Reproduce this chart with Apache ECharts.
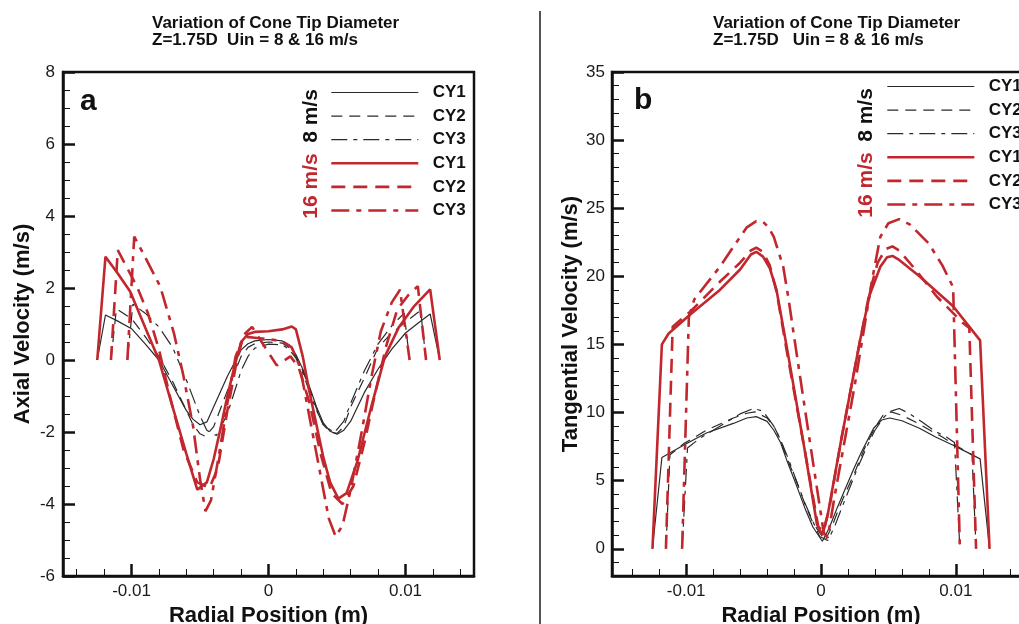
<!DOCTYPE html>
<html><head><meta charset="utf-8">
<script src="https://cdn.jsdelivr.net/npm/echarts@6/dist/echarts.min.js"></script>
<style>html,body{margin:0;padding:0;background:#fff}#c{width:1019px;height:624px}</style>
</head><body><div id="c"></div>
<script>
// ---------- tick values ----------
const xTickMajor = [-0.01, 0, 0.01];
const xTickMinor = [-0.014,-0.012,-0.008,-0.006,-0.004,-0.002,0.002,0.004,0.006,0.008,0.012,0.014];
const yTickMajorB = [0,5,10,15,20,25,30,35];
const yTickMinorB = [-1,1,2,3,4,6,7,8,9,11,12,13,14,16,17,18,19,21,22,23,24,26,27,28,29,31,32,33,34];

// ---------- panel a : axial velocity [radial position (m), velocity (m/s)] ----------
const a8_CY1 = [[-0.0125,0],[-0.0119,1.25],[-0.011,1.08],[-0.010,0.87],[-0.009,0.45],[-0.008,0],[-0.007,-0.7],[-0.006,-1.4],[-0.0055,-1.65],[-0.005,-1.8],[-0.0045,-1.72],[-0.004,-1.3],[-0.003,-0.45],[-0.002,0.28],[-0.0015,0.45],[-0.001,0.53],[0,0.57],[0.001,0.53],[0.0015,0.42],[0.002,0.15],[0.0025,-0.25],[0.003,-0.75],[0.0035,-1.3],[0.004,-1.75],[0.0045,-1.98],[0.005,-2.06],[0.0055,-1.95],[0.006,-1.7],[0.007,-0.9],[0.008,-0.25],[0.009,0.3],[0.010,0.75],[0.011,1.05],[0.0118,1.28],[0.0125,0]];
const a8_CY2 = [[-0.0115,0],[-0.0111,1.42],[-0.010,1.15],[-0.009,0.65],[-0.008,0.1],[-0.007,-0.6],[-0.006,-1.4],[-0.0055,-1.8],[-0.005,-2.05],[-0.0046,-2.12],[-0.004,-1.85],[-0.003,-0.85],[-0.002,0.1],[-0.0015,0.35],[-0.001,0.45],[0,0.5],[0.001,0.47],[0.0015,0.35],[0.002,0.1],[0.0025,-0.3],[0.003,-0.8],[0.0035,-1.35],[0.004,-1.8],[0.0045,-2.0],[0.005,-2.04],[0.0055,-1.85],[0.006,-1.3],[0.007,-0.5],[0.008,0.35],[0.009,0.75],[0.010,1.05],[0.0111,1.38],[0.0115,0]];
const a8_CY3 = [[-0.0103,0],[-0.0099,1.55],[-0.009,1.3],[-0.008,0.92],[-0.007,0.35],[-0.006,-0.55],[-0.005,-1.55],[-0.0045,-1.95],[-0.0038,-2.1],[-0.003,-1.5],[-0.002,-0.3],[-0.0015,0.1],[-0.001,0.33],[0,0.44],[0.001,0.42],[0.0015,0.3],[0.002,0.05],[0.0025,-0.35],[0.003,-0.9],[0.0035,-1.4],[0.004,-1.8],[0.0048,-2.02],[0.0055,-1.7],[0.006,-1.2],[0.007,-0.3],[0.008,0.45],[0.009,0.95],[0.0099,1.3],[0.0103,0]];
const a16_CY1 = [[-0.0125,0],[-0.0119,2.87],[-0.011,2.4],[-0.0101,1.9],[-0.009,0.9],[-0.008,0],[-0.007,-1.3],[-0.006,-2.6],[-0.0052,-3.6],[-0.0045,-3.4],[-0.004,-2.75],[-0.0035,-1.9],[-0.003,-1.0],[-0.0025,-0.2],[-0.002,0.5],[-0.0015,0.72],[-0.001,0.78],[0,0.8],[0.001,0.85],[0.0017,0.93],[0.002,0.85],[0.0025,0.1],[0.003,-0.9],[0.0035,-1.8],[0.004,-2.7],[0.0045,-3.4],[0.0051,-3.85],[0.0057,-3.7],[0.0065,-2.8],[0.0075,-1.3],[0.0085,0.1],[0.0095,0.9],[0.0106,1.48],[0.0118,1.96],[0.0125,0]];
const a16_CY2 = [[-0.0115,0],[-0.011,3.05],[-0.0096,2.04],[-0.0088,1.3],[-0.008,0.3],[-0.0072,-1.0],[-0.0062,-2.5],[-0.0052,-3.4],[-0.0043,-3.55],[-0.0037,-3.0],[-0.003,-1.4],[-0.0023,0],[-0.0018,0.7],[-0.0012,0.92],[-0.0005,0.5],[0.0006,-0.15],[0.0016,0.1],[0.0022,-0.2],[0.003,-1.2],[0.0038,-2.6],[0.0046,-3.7],[0.0054,-4.0],[0.0062,-3.5],[0.007,-2.3],[0.0078,-0.9],[0.0086,0.4],[0.0094,1.4],[0.0102,1.8],[0.0109,2.05],[0.0115,0]];
const a16_CY3 = [[-0.0103,0],[-0.0098,3.43],[-0.0089,2.78],[-0.0079,2.04],[-0.0069,0.74],[-0.0062,-0.46],[-0.0055,-1.85],[-0.005,-3.3],[-0.0046,-4.2],[-0.0042,-3.9],[-0.0036,-2.6],[-0.003,-1.2],[-0.0024,0.1],[-0.0018,0.65],[-0.001,0.62],[0,0.58],[0.001,0.52],[0.0017,0.35],[0.0023,-0.2],[0.003,-1.6],[0.0038,-3.2],[0.0044,-4.4],[0.0049,-4.9],[0.0054,-4.6],[0.006,-3.6],[0.0068,-2.0],[0.0075,-0.5],[0.0082,0.8],[0.009,1.6],[0.0096,1.95],[0.0103,0]];

// ---------- panel b : tangential velocity ----------
const b8_CY1 = [[-0.0125,0],[-0.0118,6.7],[-0.0102,7.6],[-0.0085,8.5],[-0.0065,9.2],[-0.0055,9.6],[-0.0048,9.7],[-0.004,9.35],[-0.0035,8.7],[-0.003,7.8],[-0.0025,6.4],[-0.0018,4.6],[-0.0012,3.0],[-0.0006,1.6],[0.0001,0.55],[0.0006,1.5],[0.0012,3.0],[0.0018,4.4],[0.0024,5.8],[0.003,7.1],[0.0039,8.85],[0.0045,9.45],[0.0051,9.6],[0.006,9.4],[0.0073,8.85],[0.0085,8.2],[0.0098,7.6],[0.011,7.0],[0.0118,6.6],[0.0125,0]];
const b8_CY2 = [[-0.0115,0],[-0.0112,6.9],[-0.0102,7.7],[-0.0085,8.7],[-0.0065,9.6],[-0.0055,9.95],[-0.0049,10.05],[-0.004,9.6],[-0.0035,9.0],[-0.003,8.0],[-0.0025,6.6],[-0.0018,4.9],[-0.0012,3.3],[-0.0006,1.9],[0.0003,0.6],[0.0008,1.6],[0.0013,2.9],[0.0019,4.3],[0.0025,5.6],[0.0032,7.3],[0.004,8.9],[0.0046,9.8],[0.0052,10.05],[0.006,9.8],[0.007,9.3],[0.009,8.2],[0.0108,7.1],[0.0112,6.9],[0.0115,0]];
const b8_CY3 = [[-0.0103,0],[-0.0099,7.4],[-0.009,8.1],[-0.0075,9.0],[-0.006,9.9],[-0.005,10.3],[-0.0043,10.1],[-0.0035,9.0],[-0.003,8.0],[-0.0025,6.8],[-0.0019,5.2],[-0.0013,3.6],[-0.0006,2.0],[-0.0001,0.9],[0.0005,0.6],[0.001,1.6],[0.0015,2.9],[0.0021,4.4],[0.0027,5.9],[0.0034,7.5],[0.004,8.7],[0.0047,9.7],[0.0052,10.1],[0.0058,10.3],[0.0066,9.9],[0.0075,9.3],[0.0085,8.6],[0.0093,8.2],[0.0099,7.8],[0.0103,0]];
const b16_CY1 = [[-0.0125,0],[-0.0118,15.0],[-0.0113,15.8],[-0.0097,17.2],[-0.0075,19.0],[-0.006,20.5],[-0.0052,21.6],[-0.0048,21.8],[-0.0043,21.45],[-0.0038,20.6],[-0.0033,19.0],[-0.0029,16.8],[-0.0025,14.6],[-0.0012,7.2],[-0.0003,1.8],[0.0001,1.0],[0.0005,2.5],[0.0015,8.0],[0.0029,15.3],[0.0036,18.6],[0.0044,20.7],[0.0049,21.4],[0.0053,21.5],[0.0058,21.2],[0.0073,20.0],[0.0098,17.8],[0.0118,15.3],[0.0125,0]];
const b16_CY2 = [[-0.0115,0],[-0.011,16.3],[-0.0097,17.4],[-0.0075,19.6],[-0.006,21.0],[-0.0052,21.9],[-0.0048,22.1],[-0.0043,21.8],[-0.0038,20.8],[-0.0033,18.9],[-0.0029,16.6],[-0.0025,14.3],[-0.0012,7.2],[-0.0002,1.6],[0.0002,1.3],[0.0006,2.9],[0.0015,8.0],[0.0029,15.3],[0.0036,18.8],[0.0042,21.0],[0.0048,22.0],[0.0053,22.2],[0.0058,21.9],[0.007,20.5],[0.0086,18.5],[0.0105,16.6],[0.011,16.2],[0.0115,0]];
const b16_CY3 = [[-0.0103,0],[-0.0098,17.0],[-0.0094,18.3],[-0.0075,20.7],[-0.0062,22.6],[-0.0055,23.6],[-0.0048,24.05],[-0.0043,24.0],[-0.0039,23.6],[-0.0035,22.9],[-0.0028,20.7],[-0.0024,18.3],[-0.002,15.6],[-0.001,9.0],[0.0002,1.2],[0.0005,0.8],[0.001,3.8],[0.0025,12.0],[0.0033,16.8],[0.0038,19.8],[0.0044,22.9],[0.005,23.9],[0.0058,24.2],[0.0066,23.8],[0.008,22.4],[0.009,20.8],[0.0098,19.2],[0.0103,0]];

const TITLE = 'Variation of Cone Tip Diameter';
const SUB_A = 'Z=1.75D  Uin = 8 & 16 m/s';
const SUB_B = 'Z=1.75D   Uin = 8 & 16 m/s';

// ---------- styling ----------
const FONT = 'Liberation Sans';
const BLACK = '#2a2a2a';
const RED = '#c1272d';
const styles = {
  '8 m/s CY1':  {color: BLACK, width: 1.2, type: 'solid'},
  '8 m/s CY2':  {color: BLACK, width: 1.2, type: [11, 7]},
  '8 m/s CY3':  {color: BLACK, width: 1.2, type: [16, 6, 4, 6]},
  '16 m/s CY1': {color: RED, width: 2.6, type: 'solid'},
  '16 m/s CY2': {color: RED, width: 2.6, type: [14, 8]},
  '16 m/s CY3': {color: RED, width: 2.6, type: [18, 7, 5, 7]}
};
const aSets = {'8 m/s CY1': a8_CY1, '8 m/s CY2': a8_CY2, '8 m/s CY3': a8_CY3, '16 m/s CY1': a16_CY1, '16 m/s CY2': a16_CY2, '16 m/s CY3': a16_CY3};
const bSets = {'8 m/s CY1': b8_CY1, '8 m/s CY2': b8_CY2, '8 m/s CY3': b8_CY3, '16 m/s CY1': b16_CY1, '16 m/s CY2': b16_CY2, '16 m/s CY3': b16_CY3};

const series = [];
function addSeries(prefix, sets, xi, yi) {
  Object.keys(sets).forEach(k => {
    const s = styles[k];
    series.push({
      type: 'line', name: prefix + ' ' + k, data: sets[k], xAxisIndex: xi, yAxisIndex: yi,
      symbol: 'none', showSymbol: false, smooth: false, silent: true,
      lineStyle: {color: s.color, width: s.width, type: s.type},
      itemStyle: {color: s.color},
      z: s.color === RED ? 3 : 2
    });
  });
}
addSeries('a', aSets, 0, 0);
addSeries('b', bSets, 2, 1);

const tickLbl = {fontSize: 17, color: '#1a1a1a', fontFamily: FONT};
const nameSty = {fontSize: 22, fontWeight: 'bold', color: '#111', fontFamily: FONT};

function xMain(gi, lim) {
  return {
    type: 'value', gridIndex: gi, min: -lim, max: lim, position: 'bottom',
    name: 'Radial Position (m)', nameLocation: 'middle', nameGap: 24, nameTextStyle: nameSty,
    axisLine: {show: true, onZero: false, lineStyle: {color: '#111', width: 2.5}},
    axisTick: {show: true, inside: true, length: 12, customValues: xTickMajor, lineStyle: {color: '#111', width: 2.5}},
    axisLabel: {show: true, margin: 7, customValues: xTickMajor, ...tickLbl},
    splitLine: {show: false}
  };
}
function xMinor(gi, lim) {
  return {
    type: 'value', gridIndex: gi, min: -lim, max: lim, position: 'bottom',
    axisLine: {show: false, onZero: false},
    axisTick: {show: true, inside: true, length: 7, customValues: xTickMinor, lineStyle: {color: '#111', width: 1}},
    axisLabel: {show: false}, splitLine: {show: false}
  };
}

const legendBase = {
  orient: 'vertical', padding: 0, itemWidth: 87, itemHeight: 14, itemGap: 6.6,
  selectedMode: false,
  formatter: n => '  ' + n.split(' ').pop(),
  textStyle: {fontSize: 17, fontWeight: 'bold', color: '#111', fontFamily: FONT},
  itemStyle: {opacity: 0}
};
function legendData(prefix) {
  return Object.keys(styles).map(k => ({name: prefix + ' ' + k, lineStyle: {width: styles[k].width}}));
}

const titleSty = {fontSize: 17, fontWeight: 'bold', color: '#111', fontFamily: FONT, lineHeight: 17};

const option = {
  animation: false,
  backgroundColor: '#fff',
  title: [
    {text: TITLE + '\n' + SUB_A, left: 152, top: 15, padding: 0, textStyle: titleSty},
    {text: TITLE + '\n' + SUB_B, left: 713, top: 15, padding: 0, textStyle: titleSty}
  ],
  grid: [
    {left: 63, top: 72, width: 411, height: 504, show: true, borderColor: '#111', borderWidth: 2.5, containLabel: false, outerBoundsMode: 'none'},
    {left: 612, top: 72, width: 418, height: 504, show: true, borderColor: '#111', borderWidth: 2.5, containLabel: false, outerBoundsMode: 'none'}
  ],
  xAxis: [xMain(0, 0.015), xMinor(0, 0.015), xMain(1, 0.0155), xMinor(1, 0.0155)],
  yAxis: [
    {type: 'value', gridIndex: 0, min: -6, max: 8, interval: 2,
     name: 'Axial Velocity (m/s)', nameLocation: 'middle', nameGap: 29, nameTextStyle: nameSty,
     axisLine: {show: true, onZero: false, lineStyle: {color: '#111', width: 2.5}},
     axisTick: {show: true, inside: true, length: 12, lineStyle: {color: '#111', width: 2.5}},
     minorTick: {show: true, splitNumber: 4, length: 7, lineStyle: {color: '#111', width: 1}},
     axisLabel: {margin: 8, ...tickLbl}, splitLine: {show: false}},
    {type: 'value', gridIndex: 1, min: -2, max: 35,
     name: 'Tangential Velocity (m/s)', nameLocation: 'middle', nameGap: 30, nameTextStyle: nameSty,
     axisLine: {show: true, onZero: false, lineStyle: {color: '#111', width: 2.5}},
     axisTick: {show: true, inside: true, length: 12, customValues: yTickMajorB, lineStyle: {color: '#111', width: 2.5}},
     axisLabel: {margin: 7, customValues: yTickMajorB, ...tickLbl}, splitLine: {show: false}},
    {type: 'value', gridIndex: 1, min: -2, max: 35, position: 'left',
     axisLine: {show: false, onZero: false},
     axisTick: {show: true, inside: true, length: 7, customValues: yTickMinorB, lineStyle: {color: '#111', width: 1}},
     axisLabel: {show: false}, splitLine: {show: false}}
  ],
  legend: [
    Object.assign({}, legendBase, {left: 330, top: 84, data: legendData('a')}),
    Object.assign({}, legendBase, {left: 886, top: 78, data: legendData('b')})
  ],
  graphic: [
    {type: 'line', shape: {x1: 540, y1: 11, x2: 540, y2: 624}, style: {stroke: '#555', lineWidth: 2}, silent: true},
    {type: 'text', x: 80, y: 102, style: {text: 'a', fontSize: 30, fontWeight: 'bold', fontFamily: FONT, fill: '#111', align: 'left', verticalAlign: 'middle'}},
    {type: 'text', x: 634, y: 101, style: {text: 'b', fontSize: 30, fontWeight: 'bold', fontFamily: FONT, fill: '#111', align: 'left', verticalAlign: 'middle'}},
    {type: 'text', x: 311, y: 116, rotation: Math.PI / 2, style: {text: '8 m/s', fontSize: 21, fontWeight: 'bold', fontFamily: FONT, fill: '#111', align: 'center', verticalAlign: 'middle'}},
    {type: 'text', x: 311, y: 186, rotation: Math.PI / 2, style: {text: '16 m/s', fontSize: 21, fontWeight: 'bold', fontFamily: FONT, fill: RED, align: 'center', verticalAlign: 'middle'}},
    {type: 'text', x: 866, y: 115, rotation: Math.PI / 2, style: {text: '8 m/s', fontSize: 21, fontWeight: 'bold', fontFamily: FONT, fill: '#111', align: 'center', verticalAlign: 'middle'}},
    {type: 'text', x: 866, y: 185, rotation: Math.PI / 2, style: {text: '16 m/s', fontSize: 21, fontWeight: 'bold', fontFamily: FONT, fill: RED, align: 'center', verticalAlign: 'middle'}}
  ],
  series: series
};

const chart = echarts.init(document.getElementById('c'), null, {renderer: 'canvas'});
chart.setOption(option);
</script></body></html>
